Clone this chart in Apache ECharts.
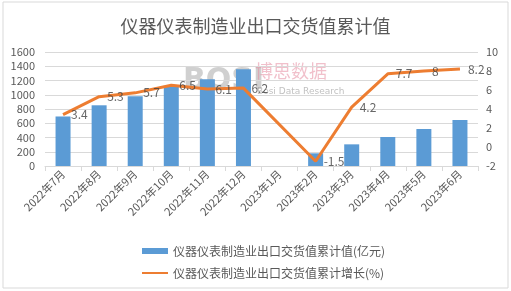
<!DOCTYPE html>
<html><head><meta charset="utf-8">
<script src="https://cdn.jsdelivr.net/npm/echarts@6/dist/echarts.min.js"></script>
<style>html,body{margin:0;padding:0;background:#fff}#c{width:511px;height:291px}</style>
</head><body><div id="c"></div>
<script>
const categories = ['2022年7月','2022年8月','2022年9月','2022年10月','2022年11月','2022年12月','2023年1月','2023年2月','2023年3月','2023年4月','2023年5月','2023年6月'];
const valueSeries = [695, 852, 978, 1114, 1217, 1357, null, 178, 304, 407, 519, 646];
const growthSeries = [3.4, 5.3, 5.7, 6.5, 6.1, 6.2, null, -1.5, 4.2, 7.7, 8, 8.2];
const leftTicks = {min: 0, max: 1600, interval: 200};
const rightTicks = {min: -2, max: 10, interval: 2};
const chart = echarts.init(document.getElementById('c'));
const font = '"Microsoft YaHei","Noto Sans CJK SC",sans-serif';
chart.setOption({
  animation: false,
  textStyle: {fontFamily: font},
  title: {text: '仪器仪表制造业出口交货值累计值', left: 'center', top: 12,
    textStyle: {fontSize: 18, fontWeight: 'normal', color: '#595959', fontFamily: font}},
  graphic: [
    {type: 'rect', shape: {x: 3, y: 2, width: 505, height: 286}, style: {fill: 'none', stroke: '#D9D9D9', lineWidth: 1}, silent: true},
    {type: 'text', left: 183, top: 66, z: 0, style: {text: 'BOSI', font: 'bold 30px "DejaVu Sans"', fill: 'rgba(150,150,150,0.45)'}},
    {type: 'text', left: 255, top: 62, z: 0, style: {text: '博思数据', font: '18px "Noto Sans CJK SC"', fill: 'rgba(230,140,160,0.55)'}},
    {type: 'text', left: 257, top: 87, z: 0, style: {text: 'Bosi Data Research', font: '9px "DejaVu Sans"', fill: 'rgba(150,150,150,0.6)'}}
  ],
  legend: {orient: 'vertical', left: 136, top: 240, itemWidth: 26, itemHeight: 6, itemGap: 10,
    textStyle: {fontSize: 12, color: '#595959', fontFamily: font},
    data: [{name: '仪器仪表制造业出口交货值累计值(亿元)', icon: 'rect'},
           {name: '仪器仪表制造业出口交货值累计增长(%)', itemStyle: {opacity: 0}}]},
  grid: {left: 45, right: 33, top: 52, bottom: 125, containLabel: false},
  xAxis: {type: 'category', data: categories,
    axisLine: {lineStyle: {color: '#D9D9D9'}},
    axisTick: {show: true, alignWithLabel: false, length: 5, lineStyle: {color: '#D9D9D9'}},
    axisLabel: {rotate: 45, fontSize: 11, color: '#595959', interval: 0, margin: 6}},
  yAxis: [
    {type: 'value', min: leftTicks.min, max: leftTicks.max, interval: leftTicks.interval,
      axisLabel: {fontSize: 11, color: '#595959', margin: 10, formatter: v => String(v)},
      splitLine: {lineStyle: {color: '#D9D9D9'}}, axisLine: {show: false}, axisTick: {show: false}},
    {type: 'value', min: rightTicks.min, max: rightTicks.max, interval: rightTicks.interval,
      axisLabel: {fontSize: 11, color: '#595959', margin: 8, formatter: v => String(v)},
      splitLine: {show: false}, axisLine: {show: false}, axisTick: {show: false}}
  ],
  series: [
    {name: '仪器仪表制造业出口交货值累计值(亿元)', type: 'bar', data: valueSeries, barWidth: 15,
      itemStyle: {color: '#5B9BD5'}},
    {name: '仪器仪表制造业出口交货值累计增长(%)', type: 'line', yAxisIndex: 1, data: growthSeries,
      connectNulls: true, symbol: 'none', lineStyle: {color: '#ED7D31', width: 3}, itemStyle: {color: '#ED7D31'}},
    {name: 'labels', type: 'scatter', yAxisIndex: 1, data: growthSeries, symbolSize: 0, z: 5,
      itemStyle: {color: 'transparent'},
      label: {show: true, position: 'right', distance: 8, fontSize: 12, color: '#404040'}}
  ]
});
</script></body></html>
